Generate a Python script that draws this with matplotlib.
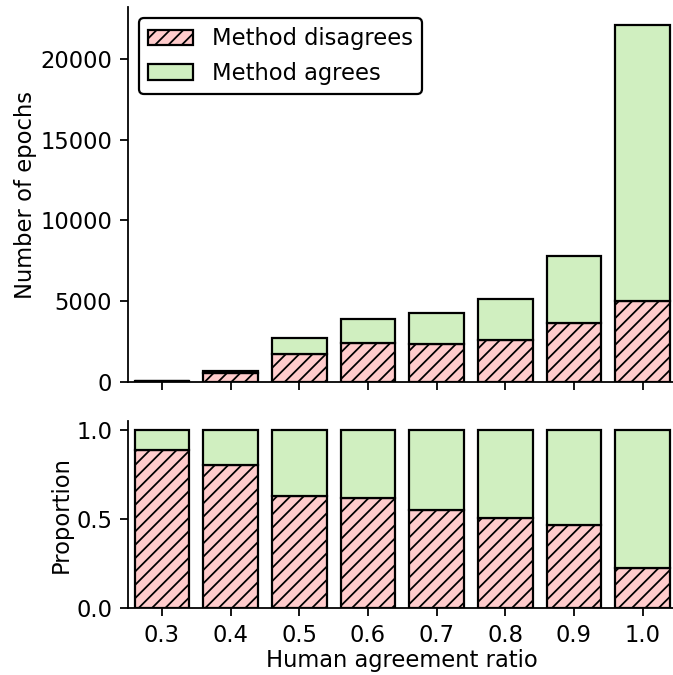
import matplotlib
matplotlib.use("Agg")
import matplotlib.pyplot as plt
import numpy as np

categories = ['0.3', '0.4', '0.5', '0.6', '0.7', '0.8', '0.9', '1.0']
disagree = [80, 540, 1710, 2410, 2370, 2600, 3650, 5040]
agree = [10, 130, 1000, 1500, 1920, 2560, 4140, 17060]

plt.rcParams['font.size'] = 10.2
plt.rcParams['hatch.linewidth'] = 0.8

DPI = 160
fig = plt.figure(figsize=(673 / DPI, 675 / DPI), dpi=DPI)
ax1 = fig.add_axes([0.1897, 0.4341, 0.8162, 0.5555])
ax2 = fig.add_axes([0.1897, 0.0988, 0.8162, 0.2775], sharex=ax1)

pink = '#ffcccc'
green = '#d0efc0'
x = np.arange(len(categories))
d = np.array(disagree, dtype=float)
a = np.array(agree, dtype=float)
tot = d + a

ax1.bar(x, d, 0.8, color=pink, edgecolor='black', hatch='////', label='Method disagrees')
ax1.bar(x, a, 0.8, bottom=d, color=green, edgecolor='black', label='Method agrees')
ax2.bar(x, d / tot, 0.8, color=pink, edgecolor='black', hatch='////')
ax2.bar(x, a / tot, 0.8, bottom=d / tot, color=green, edgecolor='black')

for ax in (ax1, ax2):
    ax.spines['top'].set_visible(False)
    ax.spines['right'].set_visible(False)
ax1.set_xlim(-0.5, 7.5)
ax2.set_xticks(x)
ax2.set_xticklabels(categories)
plt.setp(ax1.get_xticklabels(), visible=False)
ax1.set_yticks([0, 5000, 10000, 15000, 20000])
ax2.set_yticks([0.0, 0.5, 1.0])
ax2.set_yticklabels(['0.0', '0.5', '1.0'])
ax1.set_ylabel('Number of epochs', labelpad=1.3)
ax2.set_ylabel('Proportion', labelpad=1.3)
ax2.set_xlabel('Human agreement ratio', labelpad=1)
ax1.legend(loc='upper left', framealpha=1, edgecolor='black')

fig.savefig('out.png', dpi=DPI)
